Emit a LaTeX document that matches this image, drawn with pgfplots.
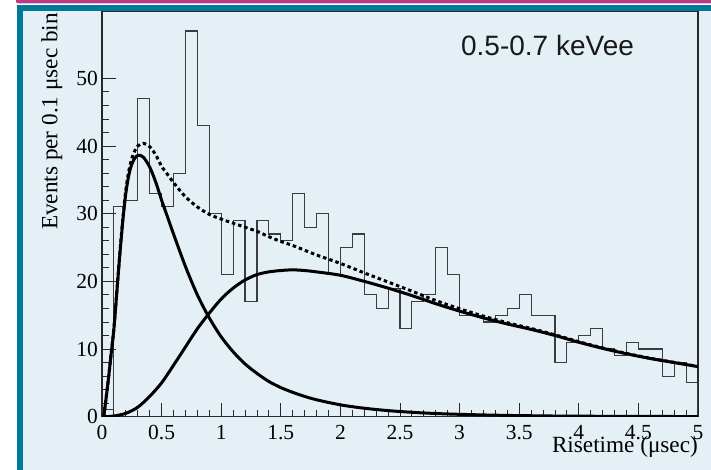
\documentclass[border=0pt]{standalone}
\usepackage{pgfplots}
\pgfplotsset{compat=1.18}
\usepackage{fontspec}
\setmainfont{Liberation Serif}
\newfontfamily\arialfont{Liberation Sans}
\definecolor{bgblue}{RGB}{228,240,246}
\definecolor{tealb}{RGB}{0,122,153}
\definecolor{magb}{RGB}{185,58,135}
\definecolor{framec}{RGB}{40,40,40}
\definecolor{histc}{RGB}{60,60,60}

\begin{document}
\begin{tikzpicture}
\useasboundingbox (0,0) rectangle (711bp,470bp);
\fill[white] (0,0) rectangle (711bp,470bp);
\fill[magb, rounded corners=2bp] (16bp,466.7bp) rectangle (730bp,480bp);
\fill[tealb] (17.3bp,-10bp) rectangle (730bp,464.5bp);
\fill[bgblue] (23.3bp,-10bp) rectangle (730bp,459bp);
\begin{axis}[
  at={(102bp,53.3bp)}, anchor=south west,
  scale only axis, width=596bp, height=405bp,
  xmin=0, xmax=5, ymin=0, ymax=59.85,
  axis line style={framec, line width=1.1bp},
  tick style={framec, line width=0.9bp},
  tick align=inside, tick pos=left,
  major tick length=14bp, minor tick length=7bp,
  xtick={0,0.5,1,1.5,2,2.5,3,3.5,4,4.5,5},
  ytick={0,10,20,30,40,50},
  minor x tick num=4, minor y tick num=4,
  /pgf/number format/assume math mode=true,
  tick label style={font=\fontsize{21.5bp}{24bp}\selectfont, text=black},
  xticklabel style={anchor=base, yshift=-23bp},
  yticklabel style={anchor=east, inner sep=0pt, xshift=-4bp},
  label style={font=\fontsize{23.2bp}{27bp}\selectfont, text=black},
  xlabel={Risetime (μsec)},
  xlabel style={at={(axis description cs:1,0)}, anchor=base east, yshift=-36bp, inner sep=0pt},
  ylabel={Events per 0.1 μsec bin},
  ylabel style={at={(axis description cs:-0.075,0.9968)}, anchor=base east, inner sep=0pt},
  clip=true,
]
% histogram
\addplot[const plot mark left, histc, line width=1.1bp] coordinates {
(0,0) (0,1) (0.1,31) (0.2,32) (0.3,47) (0.4,33) (0.5,31) (0.6,36) (0.7,57) (0.8,43) (0.9,30)
(1.0,21) (1.1,29) (1.2,17) (1.3,29) (1.4,27) (1.5,26) (1.6,33) (1.7,28) (1.8,30) (1.9,21)
(2.0,25) (2.1,27) (2.2,18) (2.3,16) (2.4,19) (2.5,13) (2.6,17) (2.7,18) (2.8,25) (2.9,21)
(3.0,15) (3.1,15) (3.2,14) (3.3,15) (3.4,16) (3.5,18) (3.6,15) (3.7,15) (3.8,8) (3.9,11)
(4.0,12) (4.1,13) (4.2,10) (4.3,9) (4.4,11) (4.5,10) (4.6,10) (4.7,6) (4.8,8) (4.9,5)
(5,5) (5,0)
};
% slow component
\addplot[smooth, black, line width=3bp] coordinates {
(0.015,0) (0.1,0.1) (0.2,0.5) (0.3,1.4) (0.4,3.0) (0.5,5.0) (0.6,7.6) (0.7,10.3) (0.8,13.0)
(0.9,15.3) (1.0,17.4) (1.1,19.0) (1.2,20.2) (1.3,21.0) (1.4,21.4) (1.5,21.6) (1.6,21.7)
(1.7,21.6) (1.8,21.4) (2.0,20.9) (2.2,20.0) (2.4,19.0) (2.6,17.9) (2.8,16.7) (3.0,15.6)
(3.2,14.6) (3.4,13.7) (3.6,12.9) (3.8,12.0) (4.0,11.0) (4.2,10.1) (4.4,9.3) (4.6,8.6)
(4.8,8.0) (5.0,7.4)
};
% fast component
\addplot[smooth, black, line width=3bp] coordinates {
(0.015,0) (0.05,5) (0.075,9) (0.1,13) (0.125,18.5) (0.15,24) (0.175,29) (0.2,33) (0.225,35.7)
(0.25,37.3) (0.275,38.2) (0.3,38.6) (0.325,38.6) (0.35,38.3) (0.4,36.9) (0.45,34.7) (0.5,32.0)
(0.55,29.5) (0.6,27.0) (0.7,22.2) (0.8,18.0) (0.9,14.6) (1.0,11.8) (1.1,9.6) (1.2,7.8)
(1.3,6.4) (1.4,5.2) (1.5,4.3) (1.6,3.6) (1.7,3.0) (1.8,2.5) (2.0,1.75) (2.2,1.25) (2.4,0.9)
(2.6,0.65) (2.8,0.47) (3.0,0.35) (3.2,0.26) (3.4,0.19) (3.6,0.14) (3.8,0.1) (4.0,0.08)
(4.2,0.06) (4.4,0.05) (4.6,0.04) (4.8,0.03) (5.0,0.02)
};
% total
\addplot[smooth, black, line width=3bp, dash pattern=on 3.5bp off 3bp] coordinates {
(0.015,0) (0.05,5.0) (0.075,9.05) (0.1,13.1) (0.125,18.7) (0.15,24.25) (0.175,29.35) (0.2,33.5)
(0.225,36.35) (0.25,38.15) (0.275,39.3) (0.3,40.0) (0.325,40.3) (0.35,40.4) (0.4,39.9)
(0.45,38.7) (0.5,37.0) (0.55,35.8) (0.6,34.6) (0.7,32.5) (0.8,31.0) (0.9,29.9) (1.0,29.2)
(1.1,28.6) (1.2,28.0) (1.3,27.4) (1.4,26.6) (1.5,25.9) (1.6,25.3) (1.7,24.6) (1.8,23.9)
(2.0,22.65) (2.2,21.25) (2.4,19.9) (2.6,18.55) (2.8,17.17) (3.0,15.95) (3.2,14.86) (3.4,13.89)
(3.6,13.04) (3.8,12.1) (4.0,11.08) (4.2,10.16) (4.4,9.35) (4.6,8.64) (4.8,8.03) (5.0,7.42)
};
\end{axis}
\node[anchor=base, font=\arialfont\fontsize{28bp}{32bp}\selectfont, text=black!90] at (547.5bp,414bp) {0.5-0.7 keVee};
\end{tikzpicture}
\end{document}
